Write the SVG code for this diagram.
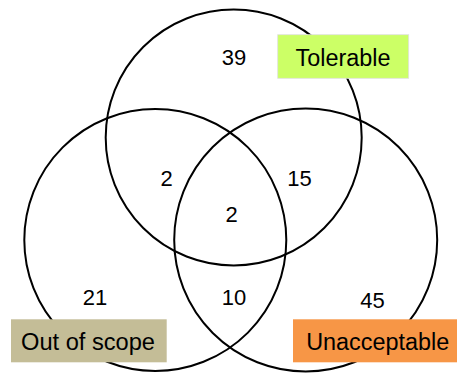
<svg xmlns="http://www.w3.org/2000/svg" width="457" height="374" viewBox="0 0 457 374">
<style>
.c{fill:none;stroke:#000;stroke-width:2}
.n{font-family:"Liberation Sans",Arial,sans-serif;font-size:22px;fill:#000;text-anchor:middle}
.l{font-family:"Liberation Sans",Arial,sans-serif;font-size:23px;fill:#000;text-anchor:middle}
</style>
<rect width="457" height="374" fill="#fff"/>
<g id="sets">
<circle id="tolerable-set" class="c" cx="233.7" cy="137.5" r="128"/>
<circle id="outofscope-set" class="c" cx="155.3" cy="240" r="131"/>
<circle id="unacceptable-set" class="c" cx="305.7" cy="240" r="131.5"/>
</g>
<g id="counts">
<text class="n" x="234" y="65">39</text>
<text class="n" x="166.5" y="186">2</text>
<text class="n" x="299.5" y="186">15</text>
<text class="n" x="231.5" y="222">2</text>
<text class="n" x="95" y="305">21</text>
<text class="n" x="234" y="305">10</text>
<text class="n" x="372.5" y="308">45</text>
</g>
<g id="label-tolerable">
<rect x="277.7" y="34.7" width="131" height="43.6" fill="#ccff66" stroke="#e0e0e0" stroke-width="0.8"/>
<text class="l" x="343" y="66" textLength="95" lengthAdjust="spacingAndGlyphs">Tolerable</text>
</g>
<g id="label-outofscope">
<rect x="11" y="319.3" width="155.7" height="43" fill="#c4bd97"/>
<text class="l" x="88" y="350" textLength="134" lengthAdjust="spacingAndGlyphs">Out of scope</text>
</g>
<g id="label-unacceptable">
<rect x="293" y="319.3" width="164" height="43" fill="#f79646"/>
<text class="l" x="377.7" y="350" textLength="143" lengthAdjust="spacingAndGlyphs">Unacceptable</text>
</g>
</svg>
